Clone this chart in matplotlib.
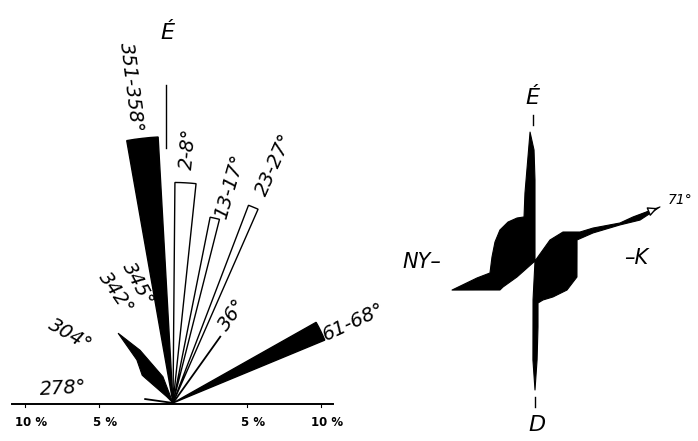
import matplotlib
matplotlib.use("Agg")
import matplotlib.pyplot as plt
from matplotlib.patches import Wedge, Polygon
import numpy as np

plt.rcParams['font.family'] = ['DejaVu Sans']

# left rose: sectors (azimuth from north, clockwise), length in %
sector_from = [350, 0.5, 11.3, 20.9, 60.6]
sector_to = [356.8, 6.0, 14.2, 23.7, 67.5]
sector_len = [18.0, 14.9, 12.8, 14.3, 11.1]
sector_filled = [True, False, False, False, True]

# single directions drawn as lines
line_az = [35.5, 278]
line_len = [5.5, 1.9]

# the spindle-shaped 304° group (azimuth, %)
spindle_az = [0, 339, 328, 321.8, 320, 312, 312, 315]
spindle_r = [0, 1.9, 4.2, 6.0, 3.8, 2.8, 2.5, 0.6]

labels = ["351-358°", "2-8°", "13-17°", "23-27°", "36°", "61-68°",
          "345°", "342°", "304°", "278°"]
label_x = [-2.84, 1.05, 3.85, 6.85, 3.99, 12.2, -2.35, -3.85, -6.96, -7.4]
label_y = [21.3, 17.2, 14.6, 16.1, 5.95, 5.47, 8.0, 7.45, 4.59, 1.01]
label_rot = [-83, 85, 74, 66, 55, 25, -62, -55, -30, 3]

pct_ticks = [-10, -5, 5, 10]
pct_labels = ["10 %", "5 %", "5 %", "10 %"]

# right rose outline (azimuth, length)
rose_az = [0, 0, 359.5, 357.8, 351.6, 346, 337.3, 325.3, 311.5, 295.4, 275.3,
           255.1, 253.7, 250.7, 242.2, 230.4, 230.9, 228.4, 0,
           182.9, 181.2, 180, 178.8, 177.4, 175.9, 168.4, 153.4, 132.2, 110.9,
           71.6, 63.4, 64.2, 67.0, 68.7, 66.6, 65.8, 65.9, 60.4, 57.2, 44.0, 35.5]
rose_r = [0, 81, 111, 129, 68.7, 45.4, 46.6, 47.4, 46.8, 44.3, 43.2,
          46.6, 60.4, 87.9, 62.2, 45.5, 41.2, 24.1, 0,
          39, 99, 129, 99, 66, 42.1, 39.8, 40.2, 43.2, 44.9,
          44.3, 47, 64.4, 92.3, 112.7, 136.2, 107.4, 93.1, 66.7, 53.5, 40.3, 25.8]


def polar_xy(az, r):
    a = np.radians(np.asarray(az, dtype=float))
    r = np.asarray(r, dtype=float)
    return np.column_stack([r * np.sin(a), r * np.cos(a)])


fig = plt.figure(figsize=(6.98, 4.41), dpi=100)

# ---- left rose diagram
ax = fig.add_axes([0, 0, 350 / 698, 1])
ax.set_xlim(-11.69, 11.96)
ax.set_ylim(-2.57, 27.23)
ax.set_aspect("equal")
ax.axis("off")

for a0, a1, r, filled in zip(sector_from, sector_to, sector_len, sector_filled):
    w = Wedge((0, 0), r, 90 - a1, 90 - a0,
              facecolor="black" if filled else "white",
              edgecolor="black", lw=1.0)
    ax.add_patch(w)

for az, r in zip(line_az, line_len):
    p = polar_xy([az, az], [0, r])
    ax.plot(p[:, 0], p[:, 1], color="black", lw=1.3)

ax.add_patch(Polygon(polar_xy(spindle_az, spindle_r), closed=True,
                     facecolor="black", edgecolor="black", lw=0.8))

# north reference line and label
ax.plot([-0.47, -0.47], [17.2, 21.5], color="black", lw=1.0)
ax.text(-0.41, 25.0, "É", fontsize=16, fontstyle="italic",
        ha="center", va="center")

for t, x, y, rot in zip(labels, label_x, label_y, label_rot):
    ax.text(x, y, t, fontsize=14, fontstyle="italic", rotation=rot,
            ha="center", va="center", rotation_mode="anchor")

# percentage scale
ax.plot([-10.9, 10.8], [-0.1, -0.1], color="black", lw=1.4)
for tx, tl in zip(pct_ticks, pct_labels):
    ax.plot([tx, tx], [-0.1, -0.28], color="black", lw=0.8)
    ax.text(tx + 0.4, -1.35, tl, fontsize=8.5, fontweight="bold",
            ha="center", va="center")

# ---- right rose diagram
ax2 = fig.add_axes([350 / 698, 0, 348 / 698, 1])
ax2.set_xlim(-185, 163)
ax2.set_ylim(-180, 261)
ax2.set_aspect("equal")
ax2.axis("off")

ax2.add_patch(Polygon(polar_xy(rose_az, rose_r), closed=True,
                      facecolor="black", edgecolor="black", lw=0.8,
                      joinstyle="round"))
ax2.annotate("", xy=(125, 54), xytext=(98, 43),
             arrowprops=dict(arrowstyle="-|>", color="black", lw=1.0,
                             mutation_scale=14, fc="white"))

ax2.text(-3, 163, "É", fontsize=16, fontstyle="italic", ha="center", va="center")
ax2.plot([-2, -2], [136, 146], color="black", lw=1.0)
ax2.text(2, -164, "D", fontsize=16, fontstyle="italic", ha="center", va="center")
ax2.plot([0, 0], [-136, -146], color="black", lw=1.0)
ax2.text(-113, -1, "NY–", fontsize=15, fontstyle="italic", ha="center", va="center")
ax2.text(101, 3, "–K", fontsize=15, fontstyle="italic", ha="center", va="center")
ax2.text(145, 61, "71°", fontsize=10, fontstyle="italic", ha="center", va="center")

fig.savefig("out.png", dpi=100)
